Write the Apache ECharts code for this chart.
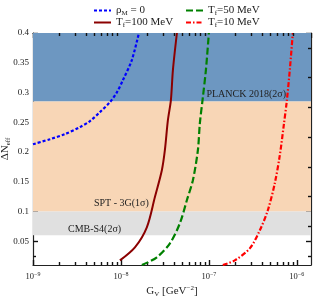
<!DOCTYPE html>
<html><head><meta charset="utf-8">
<script src="https://cdn.jsdelivr.net/npm/echarts@6/dist/echarts.min.js"></script>
<style>html,body{margin:0;padding:0;background:#fff}#c{width:315px;height:298px}</style>
</head><body><div id="c"></div>
<script>
// ---- data ----
const X_MIN = 1e-9, X_MAX = 1.45e-6;
const Y_MIN = 0.01, Y_MAX = 0.4;
const yMajorTicks = [0.05, 0.1, 0.15, 0.2, 0.25, 0.3, 0.35, 0.4];
const yMinorTicks = [0.025, 0.075, 0.125, 0.175, 0.225, 0.275, 0.325, 0.375];
const xMajorTicks = [1e-9, 1e-8, 1e-7, 1e-6];
const xMinorTicks = [2e-9,3e-9,4e-9,5e-9,6e-9,7e-9,8e-9,9e-9,2e-8,3e-8,4e-8,5e-8,6e-8,7e-8,8e-8,9e-8,2e-7,3e-7,4e-7,5e-7,6e-7,7e-7,8e-7,9e-7];
const PLANCK = 0.285, SPT = 0.1, CMBS4 = 0.06;

const rhoM0_G  = [1e-9, 1.56e-9, 2.31e-9, 3.42e-9, 4.45e-9, 5.77e-9, 7.5e-9, 9.02e-9, 1.055e-8, 1.33e-8, 1.6e-8];
const rhoM0_N  = [0.213, 0.2215, 0.230, 0.2418, 0.2519, 0.267, 0.2838, 0.3007, 0.3209, 0.3545, 0.4];
const tf100_G  = [9.74e-9, 1.442e-8, 1.97e-8, 2.43e-8, 2.92e-8, 3.16e-8, 3.42e-8, 3.7e-8, 3.9e-8, 4.33e-8];
const tf100_N  = [0.0178, 0.0397, 0.0734, 0.1239, 0.1694, 0.203, 0.2535, 0.2872, 0.3377, 0.4];
const tf50_G   = [1.73e-8, 2.56e-8, 3.61e-8, 4.68e-8, 5.62e-8, 6.58e-8, 7.5e-8, 7.9e-8, 8.55e-8, 9.25e-8, 1.0e-7];
const tf50_N   = [0.01, 0.0229, 0.0465, 0.0801, 0.1189, 0.1525, 0.203, 0.2485, 0.2923, 0.3377, 0.4];
const tf10_G   = [1.44e-7, 1.97e-7, 2.92e-7, 3.8e-7, 4.68e-7, 5.62e-7, 6.41e-7, 7.11e-7, 7.69e-7, 8.32e-7, 9.01e-7];
const tf10_N   = [0.01, 0.0178, 0.038, 0.0684, 0.102, 0.1475, 0.1946, 0.2451, 0.2855, 0.3377, 0.4];

const labelsRich = {
  rhoM0: '{n|ρ}{s|M}{n| = 0}',
  tf100: '{n|T}{s|f}{n|=100 MeV}',
  tf50: '{n|T}{s|f}{n|=50 MeV}',
  tf10: '{n|T}{s|f}{n|=10 MeV}'
};
// ---- chart ----
const F = 'Liberation Serif';
const zip = (a, b) => a.map((v, i) => [v, b[i]]);
const rich = {
  n: {fontFamily: F, fontSize: 11, color: '#222', lineHeight: 13},
  s: {fontFamily: F, fontSize: 7, color: '#222', verticalAlign: 'bottom', lineHeight: 7},
  p: {fontFamily: F, fontSize: 7, color: '#222', verticalAlign: 'top', lineHeight: 7},
  b: {fontFamily: F, fontSize: 8.5, color: '#222', lineHeight: 11},
  e: {fontFamily: F, fontSize: 6, color: '#222', verticalAlign: 'top', lineHeight: 6}
};
const xFmt = v => '{b|10}{e|−' + Math.round(-Math.log10(v)) + '}';
const tk = (len, cv) => {
  const t = {show: true, inside: true, length: len, lineStyle: {color: '#111', width: 1.4}};
  if (cv) t.customValues = cv;
  return t;
};
const chart = echarts.init(document.getElementById('c'));
chart.setOption({
  animation: false,
  grid: {left: 33, right: 4, top: 33, bottom: 33, outerBoundsMode: 'none'},
  xAxis: [
    {type: 'log', min: X_MIN, max: X_MAX, position: 'bottom', splitLine: {show: false},
     axisLine: {show: true, lineStyle: {color: '#222', width: 1.2}}, axisTick: tk(5),
     axisLabel: {margin: 6, formatter: xFmt, rich: rich},
     name: '{n|G}{s|V}{n| [GeV}{p|−2}{n|]}', nameLocation: 'middle', nameGap: 20, nameMoveOverlap: false, nameTextStyle: {rich: rich}},
    {type: 'log', min: X_MIN, max: X_MAX, position: 'bottom', splitLine: {show: false},
     axisLine: {show: false}, axisTick: tk(3, xMinorTicks), axisLabel: {formatter: () => ''}},
    {type: 'log', min: X_MIN, max: X_MAX, position: 'top', splitLine: {show: false},
     axisLine: {show: true, lineStyle: {color: '#222', width: 1.2}}, axisTick: tk(5), axisLabel: {show: false}},
    {type: 'log', min: X_MIN, max: X_MAX, position: 'top', splitLine: {show: false}, z: 10,
     axisLine: {show: false}, axisTick: tk(3, xMinorTicks), axisLabel: {show: false}}
  ],
  yAxis: [
    {type: 'value', min: Y_MIN, max: Y_MAX, position: 'left', splitLine: {show: false},
     axisLine: {show: true, lineStyle: {color: '#222', width: 1.2}}, axisTick: tk(5, yMajorTicks),
     axisLabel: {customValues: yMajorTicks, fontFamily: F, fontSize: 9, color: '#222', margin: 4},
     name: '{n|ΔN}{s|eff}', nameLocation: 'middle', nameRotate: 90, nameGap: 21, nameMoveOverlap: false, nameTextStyle: {rich: rich}},
    {type: 'value', min: Y_MIN, max: Y_MAX, position: 'left', splitLine: {show: false},
     axisLine: {show: false}, axisTick: tk(3, yMinorTicks), axisLabel: {formatter: () => ''}},
    {type: 'value', min: Y_MIN, max: Y_MAX, position: 'right', splitLine: {show: false},
     axisLine: {show: true, lineStyle: {color: '#222', width: 1.2}}, axisTick: tk(5, yMajorTicks), axisLabel: {show: false}},
    {type: 'value', min: Y_MIN, max: Y_MAX, position: 'right', splitLine: {show: false}, z: 10,
     axisLine: {show: false}, axisTick: tk(3, yMinorTicks), axisLabel: {show: false}}
  ],
  legend: [
    {data: ['rhoM0', 'tf100'], left: 88, top: 0, orient: 'vertical', itemWidth: 17, itemHeight: 8, itemGap: 0,
     itemStyle: {opacity: 0}, formatter: n => labelsRich[n], textStyle: {rich: rich}},
    {data: ['tf50', 'tf10'], left: 180, top: 0, orient: 'vertical', itemWidth: 17, itemHeight: 8, itemGap: 0,
     itemStyle: {opacity: 0}, formatter: n => labelsRich[n], textStyle: {rich: rich}}
  ],
  series: [
    {type: 'line', name: 'bands', data: [], silent: true, z: 1,
     markArea: {silent: true, z: 1, data: [
       [{xAxis: X_MIN, yAxis: PLANCK, itemStyle: {color: '#6d97c1', opacity: 1}, label: {show: true, position: 'insideBottomRight', offset: [-20, 3], formatter: 'PLANCK 2018(2σ)', fontFamily: F, fontSize: 10, color: '#222'}}, {xAxis: X_MAX, yAxis: Y_MAX}],
       [{xAxis: X_MIN, yAxis: SPT, itemStyle: {color: '#f8d6b6', opacity: 1}, label: {show: true, position: 'insideBottomLeft', offset: [56, 2], formatter: 'SPT - 3G(1σ)', fontFamily: F, fontSize: 10, color: '#222'}}, {xAxis: X_MAX, yAxis: PLANCK}],
       [{xAxis: X_MIN, yAxis: CMBS4, itemStyle: {color: '#e0e0e0', opacity: 1}, label: {show: true, position: 'insideLeft', offset: [30, 6], formatter: 'CMB-S4(2σ)', fontFamily: F, fontSize: 10, color: '#222'}}, {xAxis: X_MAX, yAxis: SPT}]
     ]}},
    {type: 'line', name: 'rhoM0', data: zip(rhoM0_G, rhoM0_N), showSymbol: false, symbol: 'none', smooth: 0.3,
     lineStyle: {color: '#0000ff', width: 2.2, type: [3, 2]}, itemStyle: {color: '#0000ff'}},
    {type: 'line', name: 'tf100', data: zip(tf100_G, tf100_N), showSymbol: false, symbol: 'none', smooth: 0.3,
     lineStyle: {color: '#8b0000', width: 2}, itemStyle: {color: '#8b0000'}},
    {type: 'line', name: 'tf50', data: zip(tf50_G, tf50_N), showSymbol: false, symbol: 'none', smooth: 0.3,
     lineStyle: {color: '#008000', width: 2.2, type: [7, 3]}, itemStyle: {color: '#008000'}},
    {type: 'line', name: 'tf10', data: zip(tf10_G, tf10_N), showSymbol: false, symbol: 'none', smooth: 0.3,
     lineStyle: {color: '#ff0000', width: 2.2, type: [5, 2, 1.5, 2]}, itemStyle: {color: '#ff0000'}}
  ]
});
</script></body></html>
